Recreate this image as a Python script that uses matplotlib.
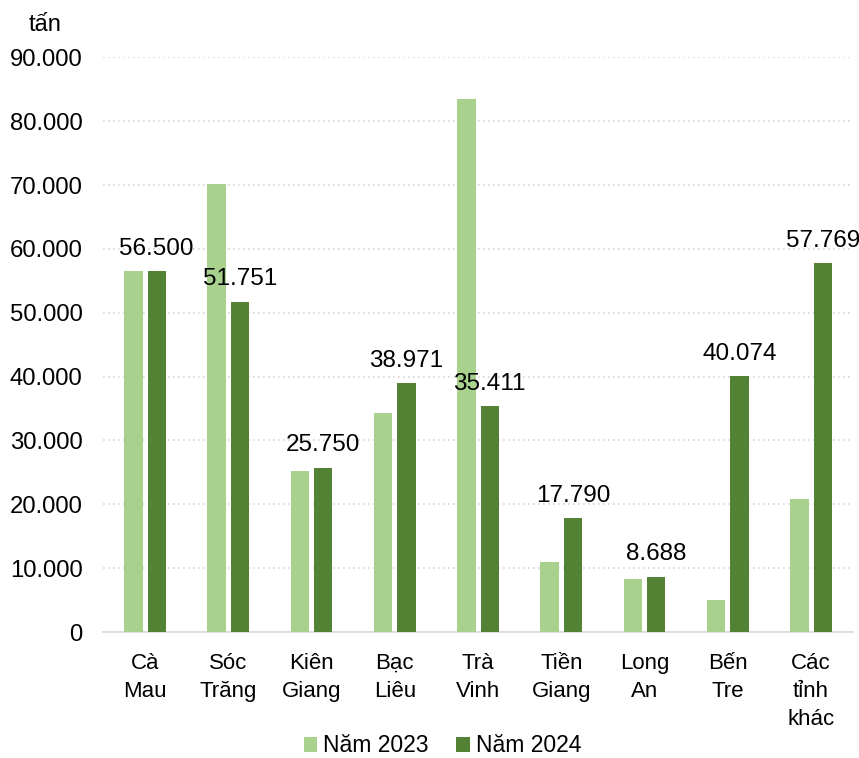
import matplotlib
matplotlib.use("Agg")
import matplotlib.pyplot as plt
import numpy as np

categories = ["Cà\nMau", "Sóc\nTrăng", "Kiên\nGiang", "Bạc\nLiêu", "Trà\nVinh",
              "Tiền\nGiang", "Long\nAn", "Bến\nTre", "Các\ntỉnh\nkhác"]
series_names = ["Năm 2023", "Năm 2024"]
values_2023 = [56600, 70200, 25200, 34300, 83500, 10900, 8300, 5000, 20800]
values_2024 = [56500, 51751, 25750, 38971, 35411, 17790, 8688, 40074, 57769]
yticks = [0, 10000, 20000, 30000, 40000, 50000, 60000, 70000, 80000, 90000]
ytick_labels = ["0", "10.000", "20.000", "30.000", "40.000", "50.000",
                "60.000", "70.000", "80.000", "90.000"]
unit_label = "tấn"

c_light = "#A9D18E"
c_dark = "#548235"

plt.rcParams['font.family'] = ['Liberation Sans', 'DejaVu Sans']

fig = plt.figure(figsize=(8.59, 7.58), dpi=100)
ax = fig.add_axes([0.1204, 0.1662, 0.8722, 0.7582])

x = np.arange(len(categories))
w = 0.22
off = 0.14
ax.bar(x - off, values_2023, w, color=c_light, label=series_names[0], zorder=3)
ax.bar(x + off, values_2024, w, color=c_dark, label=series_names[1], zorder=3)

def fmt(v):
    return f"{v:,}".replace(",", ".")

for xi, v in zip(x, values_2024):
    ax.annotate(fmt(v), (xi + off, v), xytext=(0, 8), textcoords="offset points",
                ha="center", va="bottom", fontsize=17.5, color="black", zorder=4)

ax.set_xlim(-0.5, len(categories) - 0.5)
ax.set_ylim(0, 90000)
ax.set_yticks(yticks)
ax.set_yticklabels(ytick_labels, fontsize=17.2)
ax.set_xticks(x)
ax.set_xticklabels(categories, fontsize=16, linespacing=1.45)
ax.tick_params(axis='y', length=0, pad=15)
ax.tick_params(axis='x', length=0, pad=15)

for s in ['left', 'right', 'top']:
    ax.spines[s].set_visible(False)
ax.spines['bottom'].set_color('#d9d9d9')
ax.spines['bottom'].set_linewidth(1.2)

ax.yaxis.grid(True, linestyle=(0, (1, 2)), color='#d6d6d6', linewidth=1.2, zorder=0)
ax.set_axisbelow(True)

fig.text(45.5 / 859, 1 - 25 / 758, unit_label, fontsize=17, ha='center', va='center')

fig.legend(loc='center', bbox_to_anchor=(0.515, 0.016), ncol=2, frameon=False,
           handlelength=0.6, handleheight=0.6, handletextpad=0.25,
           columnspacing=1.2, borderpad=0.2, prop={'size': 16.5})

fig.savefig("out.png", dpi=100)
